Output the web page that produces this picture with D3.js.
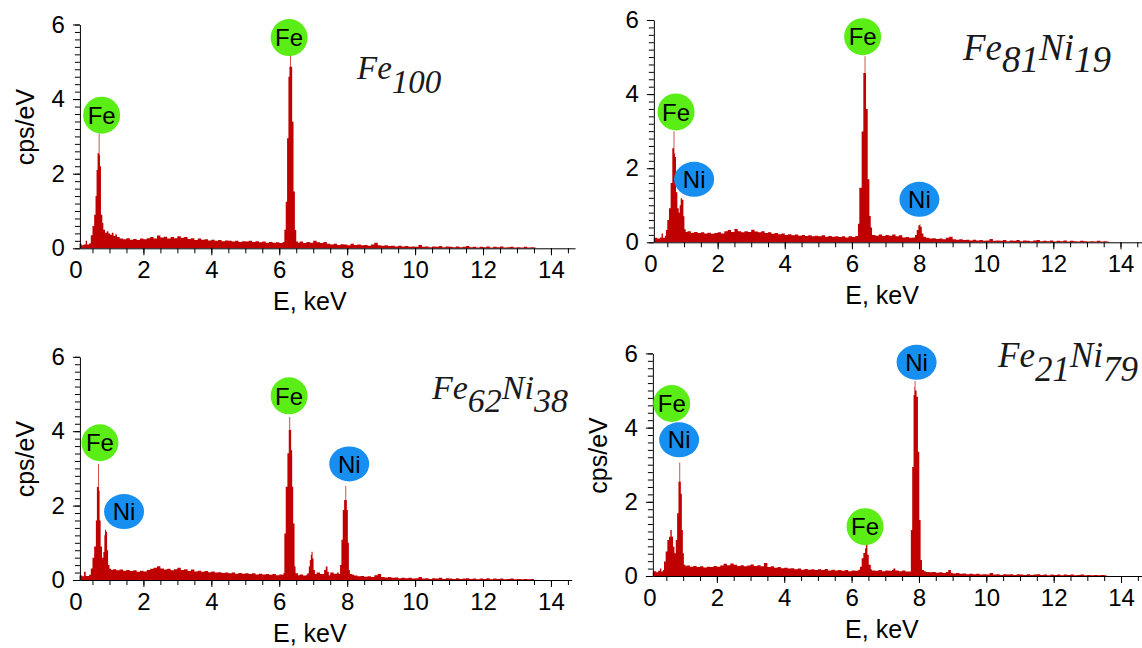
<!DOCTYPE html>
<html>
<head>
<meta charset="utf-8">
<script src="https://cdn.jsdelivr.net/npm/d3@7"></script>
<style>
  html, body { margin: 0; padding: 0; background: #fff; }
  svg { display: block; }
  .tick text { font-family: "Liberation Sans", Arial, sans-serif; }
</style>
</head>
<body>
<svg id="chart" width="1142" height="648"></svg>
<script>
// EDX spectra, cps/eV vs energy (keV)
const spectrumFe100 = [
  [0.12,0.12],[0.18,0.08],[0.24,0.1],[0.3,0.2],[0.34,0.1],[0.4,0.13],[0.45,0.35],[0.5,0.6],[0.55,0.9],[0.59,1.4],
  [0.62,2.1],[0.65,2.55],[0.685,3.08],[0.705,2.5],[0.72,2.2],[0.75,0.9],[0.79,0.68],[0.82,0.5],[0.87,0.42],[0.92,0.46],
  [0.97,0.4],[1.02,0.36],[1.07,0.42],[1.12,0.33],[1.17,0.37],[1.22,0.3],[1.3,0.26],[1.4,0.24],[1.5,0.27],[1.6,0.23],
  [1.7,0.25],[1.8,0.22],[1.9,0.26],[2.0,0.24],[2.1,0.27],[2.2,0.3],[2.3,0.26],[2.4,0.34],[2.5,0.29],[2.6,0.31],
  [2.7,0.26],[2.8,0.3],[2.9,0.27],[3.0,0.32],[3.1,0.28],[3.2,0.3],[3.3,0.25],[3.4,0.27],[3.5,0.22],[3.6,0.26],
  [3.7,0.23],[3.8,0.24],[3.9,0.21],[4.0,0.23],[4.1,0.2],[4.2,0.22],[4.3,0.19],[4.4,0.21],[4.5,0.2],[4.6,0.18],
  [4.7,0.2],[4.8,0.17],[4.9,0.19],[5.0,0.18],[5.1,0.2],[5.2,0.17],[5.3,0.19],[5.4,0.16],[5.5,0.18],[5.6,0.15],
  [5.7,0.17],[5.8,0.15],[5.9,0.16],[6.0,0.14],[6.1,0.17],
  [6.15,0.5],[6.19,1.25],[6.23,2.95],[6.27,4.6],[6.30,4.87],[6.325,5.2],[6.345,4.87],[6.38,3.39],[6.42,1.52],[6.46,0.49],
  [6.5,0.18],[6.55,0.15],[6.6,0.18],[6.7,0.14],[6.8,0.17],[6.9,0.15],[7.0,0.2],[7.1,0.16],[7.2,0.14],[7.3,0.17],
  [7.4,0.12],[7.5,0.1],[7.6,0.12],[7.7,0.09],[7.8,0.11],[7.9,0.1],[8.0,0.08],[8.1,0.12],[8.2,0.09],[8.3,0.1],
  [8.4,0.08],[8.5,0.09],[8.6,0.07],[8.7,0.1],[8.8,0.15],[8.9,0.08],[9.0,0.07],[9.1,0.08],[9.2,0.06],[9.3,0.07],
  [9.4,0.05],[9.5,0.07],[9.6,0.05],[9.7,0.06],[9.8,0.04],[9.9,0.05],[10.0,0.04],[10.1,0.09],[10.2,0.04],[10.3,0.05],
  [10.4,0.03],[10.5,0.05],[10.6,0.04],[10.7,0.06],[10.8,0.03],[10.9,0.05],[11.0,0.04],[11.1,0.03],[11.2,0.05],[11.3,0.03],
  [11.4,0.04],[11.5,0.06],[11.6,0.03],[11.7,0.04],[11.8,0.02],[11.9,0.04],[12.0,0.03],[12.1,0.05],[12.2,0.02],[12.3,0.04],
  [12.4,0.03],[12.5,0.05],[12.6,0.02],[12.7,0.03],[12.8,0.04],[12.9,0.02],[13.0,0.03],[13.1,0.02],[13.2,0.04],[13.3,0.02],
  [13.4,0.03],[13.5,0.02],[13.55,0]
];

const spectrumFe81Ni19 = [
  [0.1,0.12],[0.2,0.1],[0.28,0.13],[0.33,0.24],[0.37,0.12],[0.43,0.18],[0.46,0.33],[0.5,0.6],[0.55,0.92],[0.6,1.6],
  [0.65,2.54],[0.69,3.0],[0.71,2.4],[0.73,2.3],[0.76,1.35],[0.8,0.92],[0.84,0.8],[0.87,1.0],[0.9,1.19],[0.94,1.15],
  [0.98,0.7],[1.01,0.35],[1.05,0.28],[1.1,0.3],[1.2,0.26],[1.3,0.28],[1.4,0.25],[1.5,0.27],[1.6,0.24],[1.7,0.26],
  [1.8,0.23],[1.9,0.25],[2.0,0.27],[2.1,0.24],[2.2,0.3],[2.3,0.33],[2.4,0.28],[2.5,0.36],[2.6,0.3],[2.7,0.27],
  [2.8,0.3],[2.9,0.28],[3.0,0.34],[3.1,0.29],[3.2,0.27],[3.3,0.3],[3.4,0.25],[3.5,0.27],[3.6,0.23],[3.7,0.25],
  [3.8,0.22],[3.9,0.24],[4.0,0.2],[4.1,0.22],[4.2,0.19],[4.3,0.21],[4.4,0.18],[4.5,0.2],[4.6,0.17],[4.7,0.19],
  [4.8,0.16],[4.9,0.18],[5.0,0.16],[5.1,0.19],[5.2,0.15],[5.3,0.17],[5.4,0.15],[5.5,0.16],[5.6,0.14],[5.7,0.16],
  [5.8,0.13],[5.9,0.16],[6.0,0.14],[6.1,0.17],
  [6.18,0.5],[6.22,1.47],[6.29,2.99],[6.34,4.57],[6.38,5.02],[6.40,4.57],[6.42,3.6],[6.47,1.7],[6.52,0.71],[6.56,0.4],
  [6.6,0.2],[6.7,0.18],[6.8,0.21],[6.9,0.17],[7.0,0.2],[7.1,0.18],[7.2,0.21],[7.3,0.16],[7.4,0.19],[7.5,0.13],
  [7.6,0.14],[7.7,0.12],[7.8,0.13],
  [7.88,0.2],[7.93,0.33],[7.98,0.46],[8.02,0.49],[8.04,0.42],[8.08,0.24],[8.13,0.15],[8.2,0.12],[8.3,0.1],[8.4,0.11],
  [8.5,0.09],[8.6,0.1],[8.7,0.08],[8.8,0.12],[8.9,0.15],[9.0,0.08],[9.1,0.07],[9.2,0.08],[9.3,0.06],[9.4,0.07],
  [9.5,0.05],[9.6,0.07],[9.7,0.05],[9.8,0.06],[9.9,0.04],[10.0,0.05],[10.1,0.09],[10.2,0.04],[10.3,0.05],[10.4,0.04],
  [10.5,0.06],[10.6,0.03],[10.7,0.05],[10.8,0.04],[10.9,0.06],[11.0,0.03],[11.1,0.05],[11.2,0.04],[11.3,0.03],[11.4,0.05],
  [11.5,0.06],[11.6,0.03],[11.7,0.04],[11.8,0.03],[11.9,0.05],[12.0,0.02],[12.1,0.04],[12.2,0.03],[12.3,0.05],[12.4,0.02],
  [12.5,0.04],[12.6,0.03],[12.7,0.02],[12.8,0.04],[12.9,0.03],[13.0,0.02],[13.1,0.03],[13.2,0.02],[13.3,0.04],[13.4,0.02],
  [13.5,0.03],[13.6,0.02],[13.65,0]
];

const spectrumFe62Ni38 = [
  [0.12,0.12],[0.2,0.1],[0.25,0.22],[0.3,0.11],[0.4,0.14],[0.45,0.31],[0.5,0.6],[0.55,0.9],[0.6,1.6],[0.63,2.5],
  [0.67,3.12],[0.69,2.4],[0.71,1.6],[0.74,0.9],[0.78,0.6],[0.82,0.75],[0.85,1.2],[0.87,1.35],[0.9,1.3],[0.93,0.8],
  [0.96,0.4],[1.0,0.3],[1.05,0.27],[1.1,0.29],[1.2,0.26],[1.3,0.28],[1.4,0.25],[1.5,0.27],[1.6,0.24],[1.7,0.26],
  [1.8,0.22],[1.9,0.25],[2.0,0.23],[2.1,0.27],[2.2,0.3],[2.3,0.33],[2.4,0.37],[2.5,0.31],[2.6,0.28],[2.7,0.3],
  [2.8,0.26],[2.9,0.29],[3.0,0.33],[3.1,0.27],[3.2,0.29],[3.3,0.24],[3.4,0.28],[3.5,0.23],[3.6,0.25],[3.7,0.22],
  [3.8,0.24],[3.9,0.21],[4.0,0.23],[4.1,0.2],[4.2,0.21],[4.3,0.19],[4.4,0.2],[4.5,0.18],[4.6,0.2],[4.7,0.17],
  [4.8,0.19],[4.9,0.17],[5.0,0.18],[5.1,0.16],[5.2,0.18],[5.3,0.15],[5.4,0.17],[5.5,0.15],[5.6,0.16],[5.7,0.14],
  [5.8,0.16],[5.9,0.13],[6.0,0.15],[6.08,0.14],
  [6.12,0.18],[6.15,1.25],[6.19,2.51],[6.24,3.41],[6.28,4.03],[6.30,4.38],[6.32,4.03],[6.35,3.49],[6.38,2.51],[6.41,1.52],
  [6.45,0.36],[6.48,0.18],[6.55,0.13],[6.6,0.15],[6.7,0.12],[6.8,0.15],
  [6.83,0.18],[6.87,0.36],[6.9,0.54],[6.93,0.67],[6.95,0.76],[6.98,0.58],[7.01,0.27],[7.05,0.16],[7.1,0.2],[7.2,0.16],
  [7.27,0.16],[7.32,0.27],[7.37,0.36],[7.42,0.22],[7.46,0.13],[7.5,0.2],[7.6,0.17],[7.7,0.2],[7.75,0.16],
  [7.79,0.4],[7.83,1.08],[7.87,1.88],[7.91,2.15],[7.95,2.53],[7.97,2.15],[7.99,1.88],[8.02,1.0],[8.05,0.27],[8.08,0.16],
  [8.15,0.14],[8.2,0.12],[8.3,0.1],[8.4,0.11],[8.5,0.09],[8.6,0.1],[8.7,0.08],[8.8,0.13],[8.9,0.16],[9.0,0.08],
  [9.1,0.07],[9.2,0.08],[9.3,0.06],[9.4,0.07],[9.5,0.05],[9.6,0.06],[9.7,0.05],[9.8,0.06],[9.9,0.04],[10.0,0.05],
  [10.1,0.08],[10.2,0.04],[10.3,0.05],[10.4,0.03],[10.5,0.05],[10.6,0.04],[10.7,0.06],[10.8,0.03],[10.9,0.05],[11.0,0.04],
  [11.1,0.03],[11.2,0.05],[11.3,0.03],[11.4,0.04],[11.5,0.05],[11.6,0.03],[11.7,0.04],[11.8,0.02],[11.9,0.04],[12.0,0.03],
  [12.1,0.05],[12.2,0.02],[12.3,0.04],[12.4,0.03],[12.5,0.04],[12.6,0.02],[12.7,0.03],[12.8,0.04],[12.9,0.02],[13.0,0.03],
  [13.1,0.02],[13.2,0.03],[13.3,0.02],[13.4,0.03],[13.5,0]
];

const spectrumFe21Ni79 = [
  [0.1,0.13],[0.2,0.1],[0.26,0.14],[0.31,0.2],[0.35,0.12],[0.4,0.16],[0.43,0.39],[0.48,0.66],[0.53,0.97],[0.58,1.06],
  [0.62,1.24],[0.66,1.06],[0.7,0.79],[0.74,0.61],[0.78,0.97],[0.82,1.69],[0.86,2.54],[0.89,3.06],[0.91,2.54],[0.93,2.22],
  [0.96,1.24],[0.99,0.61],[1.02,0.3],[1.07,0.26],[1.1,0.28],[1.2,0.25],[1.3,0.27],[1.4,0.24],[1.5,0.26],[1.6,0.23],
  [1.7,0.25],[1.8,0.24],[1.9,0.27],[2.0,0.25],[2.1,0.28],[2.2,0.33],[2.3,0.29],[2.4,0.34],[2.5,0.3],[2.6,0.27],
  [2.7,0.29],[2.8,0.26],[2.9,0.28],[3.0,0.31],[3.1,0.27],[3.2,0.29],[3.3,0.26],[3.4,0.35],[3.5,0.24],[3.6,0.26],
  [3.7,0.22],[3.8,0.24],[3.9,0.21],[4.0,0.22],[4.1,0.2],[4.2,0.21],[4.3,0.18],[4.4,0.2],[4.5,0.17],[4.6,0.19],
  [4.7,0.17],[4.8,0.18],[4.9,0.16],[5.0,0.18],[5.1,0.16],[5.2,0.19],[5.3,0.15],[5.4,0.17],[5.5,0.15],[5.6,0.16],
  [5.7,0.14],[5.8,0.16],[5.9,0.13],[6.0,0.15],[6.1,0.14],[6.2,0.17],
  [6.25,0.25],[6.3,0.48],[6.35,0.62],[6.4,0.75],[6.43,0.86],[6.47,0.57],[6.51,0.3],[6.57,0.18],[6.6,0.15],[6.7,0.14],
  [6.8,0.16],[6.9,0.13],[7.0,0.15],[7.1,0.14],[7.2,0.16],[7.24,0.2],[7.3,0.15],[7.4,0.13],[7.5,0.15],[7.6,0.12],
  [7.71,0.12],[7.76,1.24],[7.80,2.94],[7.84,4.88],[7.865,5.1],[7.875,5.26],[7.895,5.0],[7.93,4.83],[7.97,3.35],[8.01,1.51],
  [8.05,0.43],[8.09,0.16],[8.15,0.13],[8.2,0.11],[8.3,0.1],[8.4,0.11],[8.5,0.09],[8.6,0.1],[8.7,0.08],[8.8,0.11],
  [8.87,0.16],[8.95,0.09],[9.0,0.07],[9.1,0.08],[9.2,0.06],[9.3,0.07],[9.4,0.05],[9.5,0.06],[9.6,0.05],[9.7,0.06],
  [9.8,0.04],[9.9,0.05],[10.0,0.04],[10.1,0.08],[10.2,0.04],[10.3,0.05],[10.4,0.03],[10.5,0.05],[10.6,0.04],[10.7,0.05],
  [10.8,0.03],[10.9,0.05],[11.0,0.04],[11.1,0.03],[11.2,0.05],[11.3,0.03],[11.4,0.04],[11.5,0.05],[11.6,0.03],[11.7,0.04],
  [11.8,0.02],[11.9,0.04],[12.0,0.03],[12.1,0.04],[12.2,0.02],[12.3,0.04],[12.4,0.03],[12.5,0.04],[12.6,0.02],[12.7,0.03],
  [12.8,0.04],[12.9,0.02],[13.0,0.03],[13.1,0.02],[13.2,0.03],[13.3,0.02],[13.4,0.03],[13.5,0.02],[13.57,0]
];

// element marker bubbles, placed in data coordinates (keV, cps/eV)
const labelsFe100 = [['Fe', 0.77, 3.57], ['Fe', 6.29, 5.65]];
const labelsFe81Ni19 = [['Fe', 0.76, 3.52], ['Ni', 1.30, 1.70], ['Fe', 6.32, 5.55], ['Ni', 8.01, 1.16]];
const labelsFe62Ni38 = [['Fe', 0.72, 3.69], ['Ni', 1.43, 1.84], ['Fe', 6.29, 4.95], ['Ni', 8.06, 3.12]];
const labelsFe21Ni79 = [['Fe', 0.66, 4.65], ['Ni', 0.88, 3.67], ['Fe', 6.40, 1.33], ['Ni', 7.93, 5.76]];

// composition titles: [element, subscript] pairs
const titleFe100 = [['Fe', '100']];
const titleFe81Ni19 = [['Fe', '81'], ['Ni', '19']];
const titleFe62Ni38 = [['Fe', '62'], ['Ni', '38']];
const titleFe21Ni79 = [['Fe', '21'], ['Ni', '79']];

const xMajorTicks = [0, 2, 4, 6, 8, 10, 12, 14];
const xMinorTicks = d3.range(0.5, 14.6, 0.5);
const yMajorTicks = [0, 2, 4, 6];
const yMinorTicks = d3.range(0, 6.01, 0.2);

const COLORS = { spectrum: '#c00000', Fe: '#5aee16', Ni: '#168ff0', axis: '#000' };
const SANS = '"Liberation Sans", Arial, sans-serif';
const SERIF = '"Liberation Serif", "Times New Roman", serif';

// panel geometry: pixel of E=0 / cps=0, pixels per unit, axis extent in keV
const panels = [
  { data: spectrumFe100, labels: labelsFe100, title: titleFe100, x0: 75.5, kx: 33.96, y0: 248.3, ky: 37.3,
    eStart: 0.13, eEnd: 14.71, yTitle: true, titlePos: [357, 79], titleSize: 33, subShift: 14 },
  { data: spectrumFe81Ni19, labels: labelsFe81Ni19, title: titleFe81Ni19, x0: 650.5, kx: 33.57, y0: 242.3, ky: 37.05,
    eStart: 0.10, eEnd: 14.8, yTitle: false, titlePos: [963, 60], titleSize: 37, subShift: 12 },
  { data: spectrumFe62Ni38, labels: labelsFe62Ni38, title: titleFe62Ni38, x0: 75.5, kx: 33.96, y0: 580, ky: 37.2,
    eStart: 0.13, eEnd: 14.61, yTitle: true, titlePos: [432, 399], titleSize: 34, subShift: 13 },
  { data: spectrumFe21Ni79, labels: labelsFe21Ni79, title: titleFe21Ni79, x0: 649.5, kx: 33.68, y0: 576, ky: 37.1,
    eStart: 0.10, eEnd: 14.8, yTitle: true, titlePos: [998, 367], titleSize: 35, subShift: 14 }
];

const svg = d3.select('#chart');

const defs = svg.append('defs');
defs.append('filter').attr('id', 'soft')
  .attr('x', '-20%').attr('y', '-20%').attr('width', '140%').attr('height', '140%')
  .append('feGaussianBlur').attr('stdDeviation', 0.7);

panels.forEach(p => {
  const x = d3.scaleLinear()
    .domain([p.eStart, p.eEnd])
    .range([p.x0 + p.eStart * p.kx, p.x0 + p.eEnd * p.kx]);
  const y = d3.scaleLinear()
    .domain([0, 6])
    .range([p.y0, p.y0 - 6 * p.ky]);

  const g = svg.append('g');

  // spectrum as a step histogram
  const area = d3.area()
    .x(d => x(d[0]))
    .y0(y(0))
    .y1(d => y(d[1]))
    .curve(d3.curveStepAfter);

  g.append('path')
    .datum(p.data)
    .attr('fill', COLORS.spectrum)
    .attr('d', area);

  // x axis: minor ticks, then major ticks with labels
  g.append('g')
    .attr('transform', `translate(0,${p.y0})`)
    .call(d3.axisBottom(x).tickValues(xMinorTicks).tickSize(5).tickSizeOuter(0).tickFormat(''))
    .call(ax => ax.select('.domain').remove());

  const xAxis = g.append('g')
    .attr('transform', `translate(0,${p.y0})`)
    .call(d3.axisBottom(x).tickValues(xMajorTicks).tickSize(7).tickSizeOuter(0)
      .tickPadding(6).tickFormat(d3.format('d')));
  xAxis.selectAll('.tick').filter(d => d === 0).select('line').remove();
  xAxis.selectAll('.tick text').attr('font-size', 24).attr('fill', '#000');
  xAxis.select('.domain').attr('stroke', COLORS.axis);

  // y axis
  g.append('g')
    .attr('transform', `translate(${x(p.eStart)},0)`)
    .call(d3.axisLeft(y).tickValues(yMinorTicks).tickSize(5).tickSizeOuter(0).tickFormat(''))
    .call(ax => ax.select('.domain').remove());

  const yAxis = g.append('g')
    .attr('transform', `translate(${x(p.eStart)},0)`)
    .call(d3.axisLeft(y).tickValues(yMajorTicks).tickSize(7).tickSizeOuter(0)
      .tickPadding(8).tickFormat(d3.format('d')));
  yAxis.selectAll('.tick text').attr('font-size', 24).attr('fill', '#000');

  // axis titles
  g.append('text')
    .attr('x', x(6.9))
    .attr('y', p.y0 + 62)
    .attr('text-anchor', 'middle')
    .attr('font-family', SANS)
    .attr('font-size', 25)
    .text('E, keV');

  if (p.yTitle) {
    g.append('text')
      .attr('transform', `translate(${x(p.eStart) - 55},${y(3.25)}) rotate(-90)`)
      .attr('text-anchor', 'middle')
      .attr('dy', '0.35em')
      .attr('font-family', SANS)
      .attr('font-size', 25)
      .text('cps/eV');
  }

  // element bubbles
  const bubbles = g.selectAll('.bubble')
    .data(p.labels)
    .join('g')
    .attr('class', 'bubble')
    .attr('transform', d => `translate(${x(d[1])},${y(d[2])})`);

  bubbles.append('ellipse')
    .attr('rx', d => d[0] === 'Fe' ? 18.5 : 20)
    .attr('ry', d => d[0] === 'Fe' ? 18.5 : 17.5)
    .attr('fill', d => COLORS[d[0]])
    .attr('filter', 'url(#soft)');

  bubbles.append('text')
    .attr('text-anchor', 'middle')
    .attr('dy', '0.36em')
    .attr('font-family', SANS)
    .attr('font-size', 24)
    .attr('fill', '#000')
    .text(d => d[0]);

  // composition title with subscripts
  const t = g.append('text')
    .attr('x', p.titlePos[0])
    .attr('y', p.titlePos[1])
    .attr('font-family', SERIF)
    .attr('font-style', 'italic')
    .attr('font-size', p.titleSize)
    .attr('fill', '#1a1a1a');

  p.title.forEach((part, i) => {
    t.append('tspan').attr('dy', i === 0 ? 0 : -p.subShift).text(part[0]);
    t.append('tspan').attr('dy', p.subShift).text(part[1]);
  });
});
</script>
</body>
</html>
